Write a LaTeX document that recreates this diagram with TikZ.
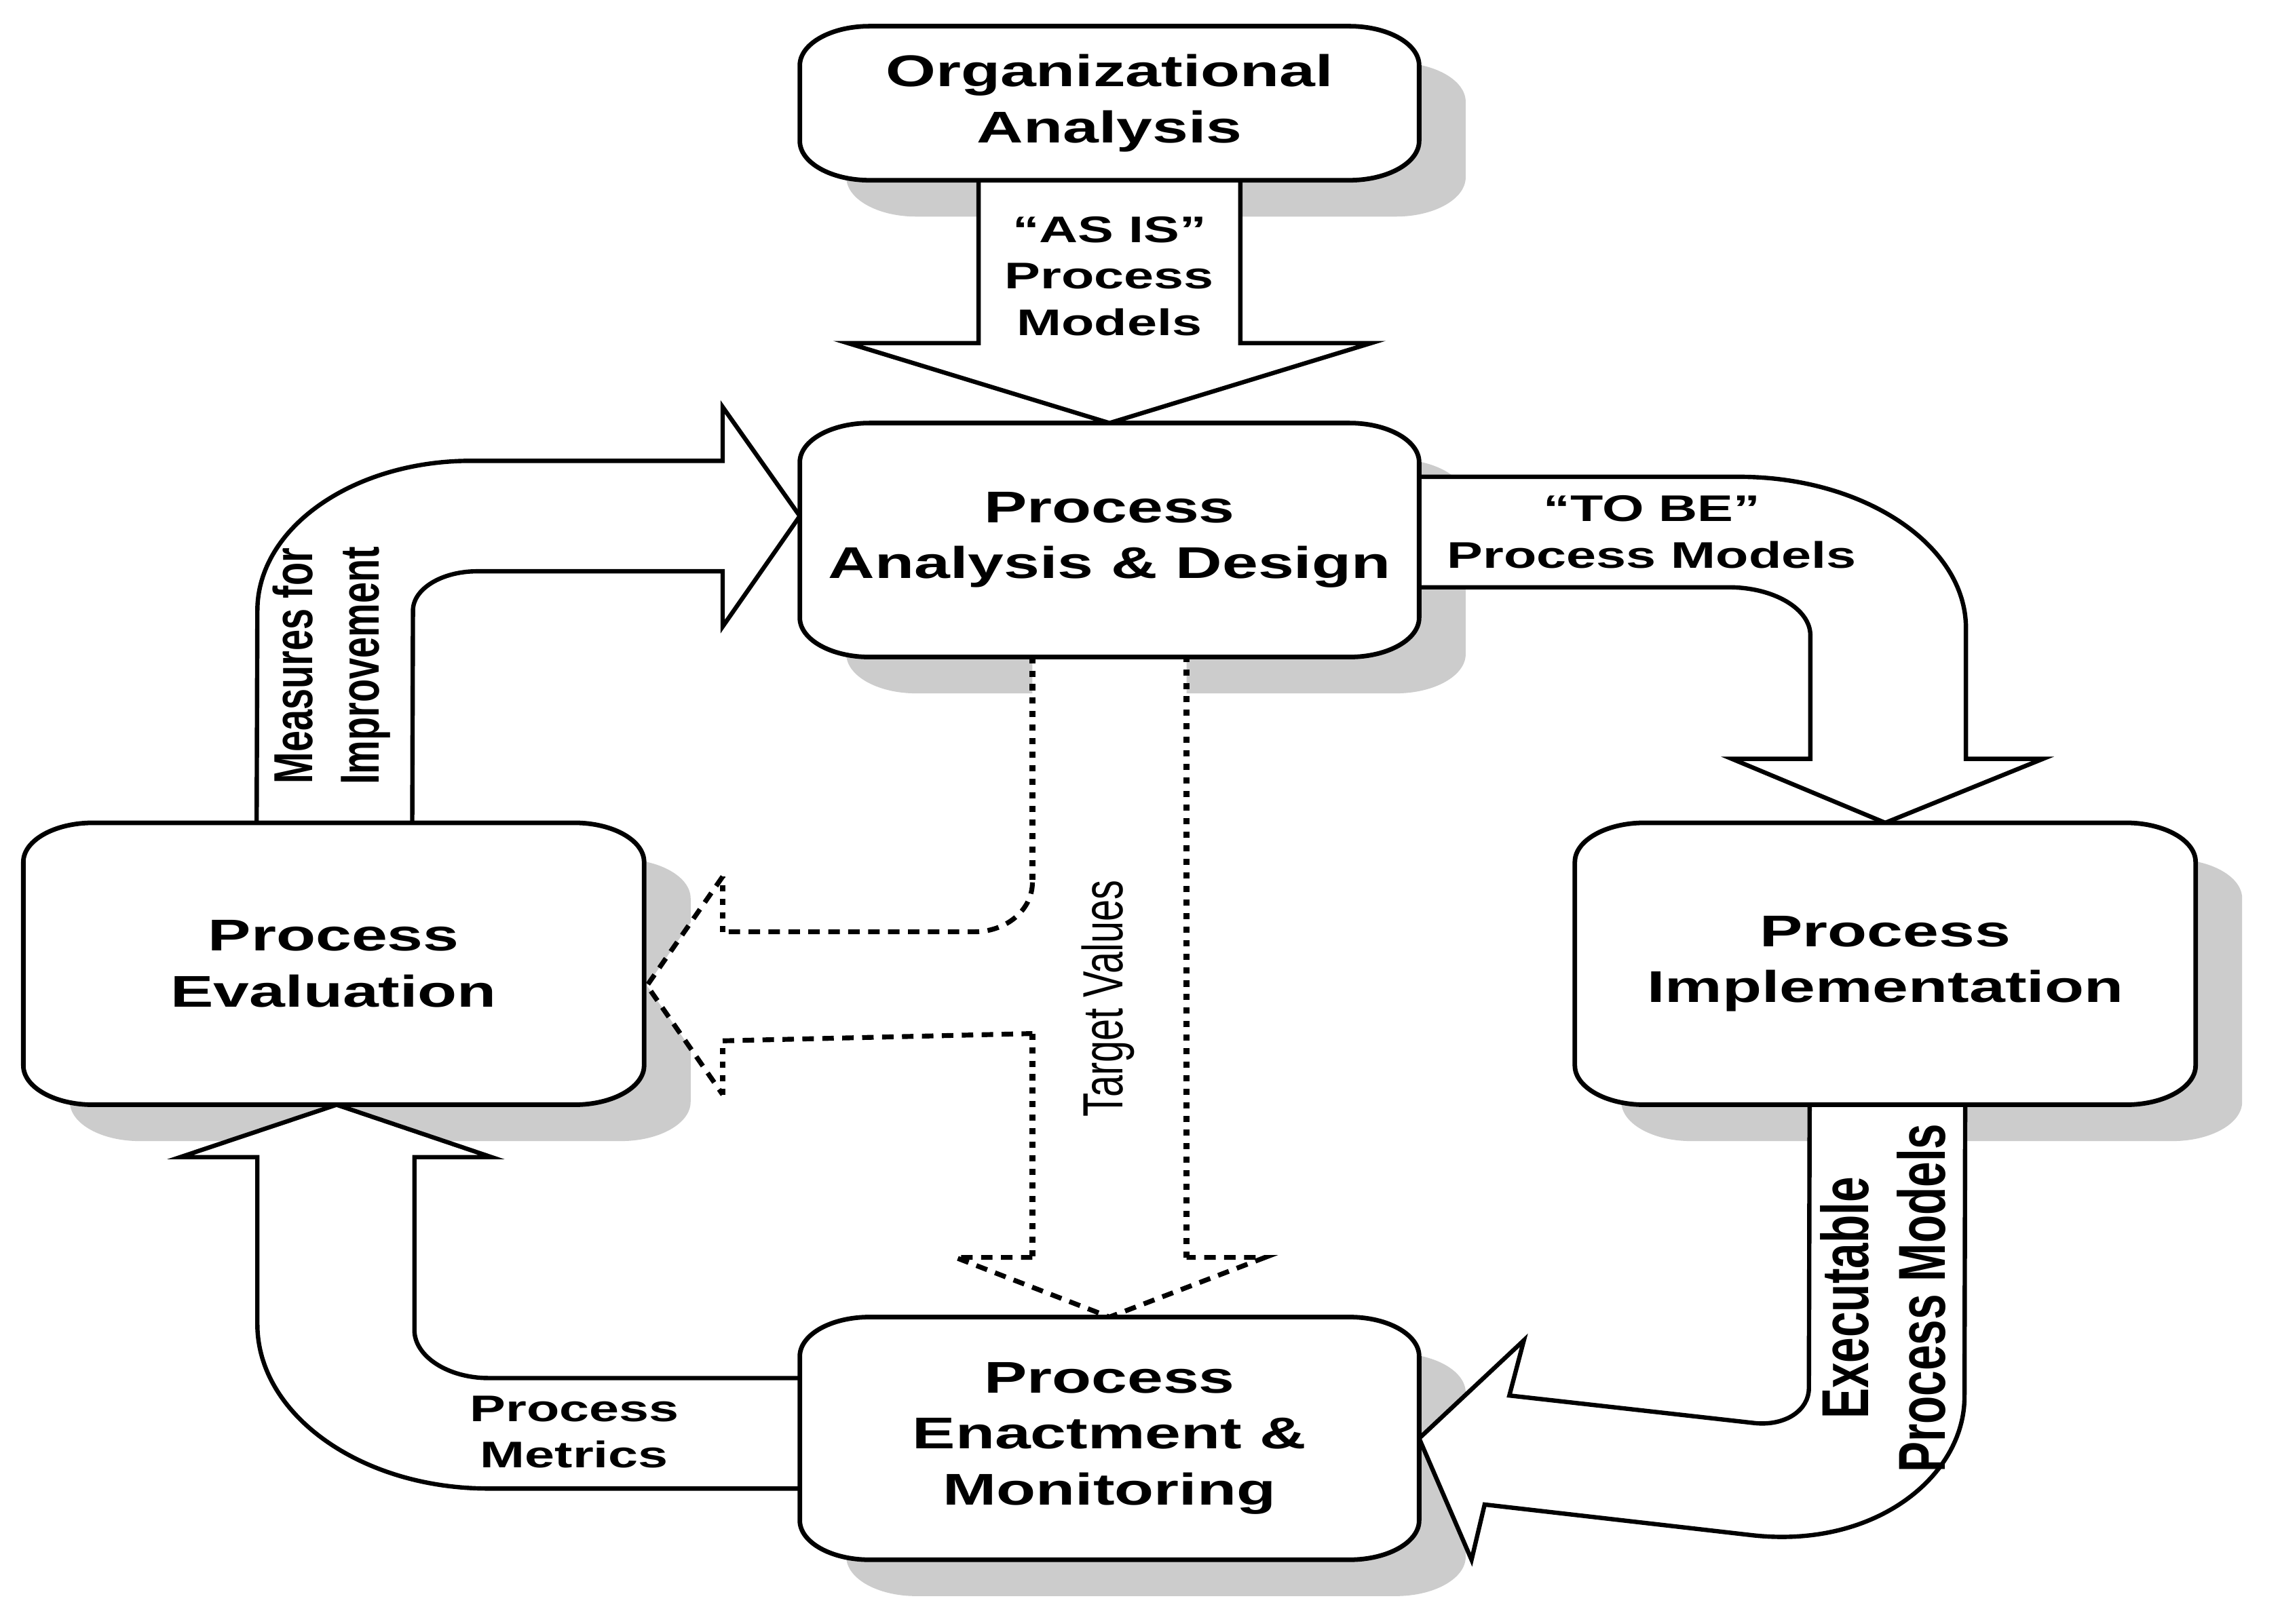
\documentclass[tikz,border=0pt]{standalone}
\usepackage{fontspec}
\newfontfamily\wideface[FakeStretch=1.45]{Liberation Sans}
\newfontfamily\tallface[FakeStretch=0.69]{Liberation Sans}
\usetikzlibrary{calc}
\pgfdeclarelayer{shade}
\pgfdeclarelayer{arrows}
\pgfdeclarelayer{frames}
\pgfsetlayers{shade,arrows,frames,main}
\def\crx{48}
\def\cry{27}
\tikzset{
  stage/.style={inner sep=0pt,outer sep=0pt,align=center,
    font=\wideface\bfseries\fontsize{17.4}{21.9}\selectfont},
  flowlabel/.style={inner sep=0pt,align=center,
    font=\wideface\bfseries\fontsize{14.5}{18.2}\selectfont},
  sidelabel/.style={inner sep=0pt,rotate=90,align=center,
    font=\tallface\bfseries\fontsize{21.5}{26.2}\selectfont},
  blockarrow/.style={draw=black,fill=white,line width=1.7pt},
  frameline/.style={draw=black,fill=white,line width=1.8pt},
  shadowbox/.style={fill=black!20,transform canvas={xshift=0.64cm,yshift=-0.5cm}},
  dotline/.style={line width=2.3pt,dash pattern=on 2.4pt off 2.9pt},
  dashline/.style={line width=1.9pt,dash pattern=on 4.5pt off 3.3pt},
  stageshape/.style={insert path={
    ($(#1.north west)+(\crx,0)$) -- ($(#1.north east)+(-\crx,0)$)
    .. controls ($(#1.north east)+(-.448*\crx,0)$) and ($(#1.north east)+(0,.448*\cry)$) .. ($(#1.north east)+(0,\cry)$)
    -- ($(#1.south east)+(0,-\cry)$)
    .. controls ($(#1.south east)+(0,-.448*\cry)$) and ($(#1.south east)+(-.448*\crx,0)$) .. ($(#1.south east)+(-\crx,0)$)
    -- ($(#1.south west)+(\crx,0)$)
    .. controls ($(#1.south west)+(.448*\crx,0)$) and ($(#1.south west)+(0,-.448*\cry)$) .. ($(#1.south west)+(0,-\cry)$)
    -- ($(#1.north west)+(0,\cry)$)
    .. controls ($(#1.north west)+(0,.448*\cry)$) and ($(#1.north west)+(.448*\crx,0)$) .. ($(#1.north west)+(\crx,0)$)
    -- cycle}}
}

\begin{document}
\begin{tikzpicture}[x=0.02cm,y=-0.02cm]
  \begin{pgfonlayer}{shade}
    \fill[white] (0,0) rectangle (1568,1117);
  \end{pgfonlayer}

  % stages
  \node[stage,minimum width=8.52cm,minimum height=2.12cm] (oa) at (763,71) {Organizational\\Analysis};
  \node[stage,minimum width=8.52cm,minimum height=3.22cm] (pad) at (763,371.5) {Process\\Analysis \& Design};
  \node[stage,minimum width=8.54cm,minimum height=3.88cm] (pe) at (229.5,663) {Process\\Evaluation};
  \node[stage,minimum width=8.54cm,minimum height=3.88cm] (pi) at (1296.5,663) {Process\\Implementation};
  \node[stage,minimum width=8.52cm,minimum height=3.34cm] (pem) at (763,989.5) {Process\\Enactment \&\\Monitoring};

  % labels on the arrows
  \node[flowlabel] (asis) at (763,190) {“AS IS”\\Process\\Models};
  \node[flowlabel] (tobe) at (1136,366) {“TO BE”\\Process Models};
  \node[flowlabel] (metrics) at (395,985) {Process\\Metrics};
  \node[sidelabel] (measures) at (228,458) {Measures for\\Improvement};
  \node[sidelabel,font=\tallface\bfseries\fontsize{26}{30.2}\selectfont] (exec) at (1295,893) {Executable\\Process Models};
  \node[sidelabel,font=\tallface\fontsize{22.2}{26}\selectfont] (target) at (762,687) {Target Values};

  \begin{pgfonlayer}{shade}
    \foreach \nd in {oa,pad,pe,pi,pem}
      \fill[shadowbox,stageshape=\nd];
  \end{pgfonlayer}
  \begin{pgfonlayer}{frames}
    \foreach \nd in {oa,pad,pe,pi,pem}
      \filldraw[frameline,stageshape=\nd];
  \end{pgfonlayer}

  \begin{pgfonlayer}{arrows}
    % as is
    \filldraw[blockarrow] ($(oa.south)+(-90,0)$) -- ($(oa.south)+(-90,112)$) -- ($(oa.south)+(-180,112)$)
      -- (pad.north) -- ($(oa.south)+(180,112)$) -- ($(oa.south)+(90,112)$) -- ($(oa.south)+(90,0)$);
    % to be
    \filldraw[blockarrow] ($(pad.north east)+(0,37)$) -- (1196,328)
      .. controls (1282,328) and (1352,375) .. (1352,432) -- (1352,522) -- (1405,522)
      -- (pi.north) -- (1191,522) -- (1245,522) -- (1245,437)
      .. controls (1245,419) and (1220,404) .. (1189,404) -- ($(pad.north east)+(0,113)$);
    % measures for improvement
    \filldraw[blockarrow] ($(pe.north)+(-53,0)$) -- (177,420)
      .. controls (177,363) and (243,317) .. (324,317) -- (497,317) -- (497,280)
      -- ($(pad.north west)+(0,64)$) -- (497,431) -- (497,393) -- (328,393)
      .. controls (304,393) and (284,405) .. (284,420) -- ($(pe.north)+(54,0)$);
    % process metrics
    \filldraw[blockarrow] ($(pem.north west)+(0,42)$) -- (336,948)
      .. controls (308,948) and (285,933) .. (285,915) -- (285,796) -- (338,796)
      -- ($(pe.south)+(2,0)$) -- (124,796) -- (177,796) -- (177,911)
      .. controls (177,973) and (248,1024) .. (336,1024) -- ($(pem.north west)+(0,118)$);
    % executable models
    \filldraw[blockarrow] ($(pi.south)+(-52,0)$) -- (1244,955)
      .. controls (1244,970) and (1228,981) .. (1207,979) -- (1038,960) -- (1048,922)
      -- (pem.east) -- (1012,1073) -- (1021,1035) -- (1204,1056)
      .. controls (1290,1066) and (1351,1015) .. (1351,961) -- ($(pi.south)+(55,0)$);

    % target values
    \coordinate (t1) at ($(pad.south)+(-53,0)$);
    \coordinate (t2) at (710,607);
    \coordinate (t3) at (670,641);
    \coordinate (t4) at (497,641);
    \coordinate (t5) at (497,603);
    \coordinate (t6) at ($(pe.east)+(2,15)$);
    \coordinate (t7) at (497,753);
    \coordinate (t8) at (497,716);
    \coordinate (t9) at (710,711);
    \coordinate (t10) at (710,865);
    \coordinate (t11) at (657,865);
    \coordinate (t12) at ($(pad.south)+(53,0)$);
    \coordinate (t13) at (816,865);
    \coordinate (t14) at (870,865);
    \fill[white] (t1) -- (t2) .. controls (710,626) and (692,641) .. (t3) -- (t4) -- (t5) -- (t6) -- (t7)
      -- (t8) -- (t9) -- (t10) -- (t11) -- (pem.north) -- (t14) -- (t13) -- (t12) -- cycle;
    \draw[dotline] (t1) -- (t2) (t4) -- (t5) (t7) -- (t8) (t9) -- (t10) (t13) -- (t12);
    \draw[dashline] (t2) .. controls (710,626) and (692,641) .. (t3) -- (t4);
    \draw[dashline] (t5) -- (t6) -- (t7);
    \draw[dashline] (t8) -- (t9);
    \draw[dashline] (t10) -- (t11) -- (pem.north) -- (t14) -- (t13);
  \end{pgfonlayer}
\end{tikzpicture}
\end{document}
